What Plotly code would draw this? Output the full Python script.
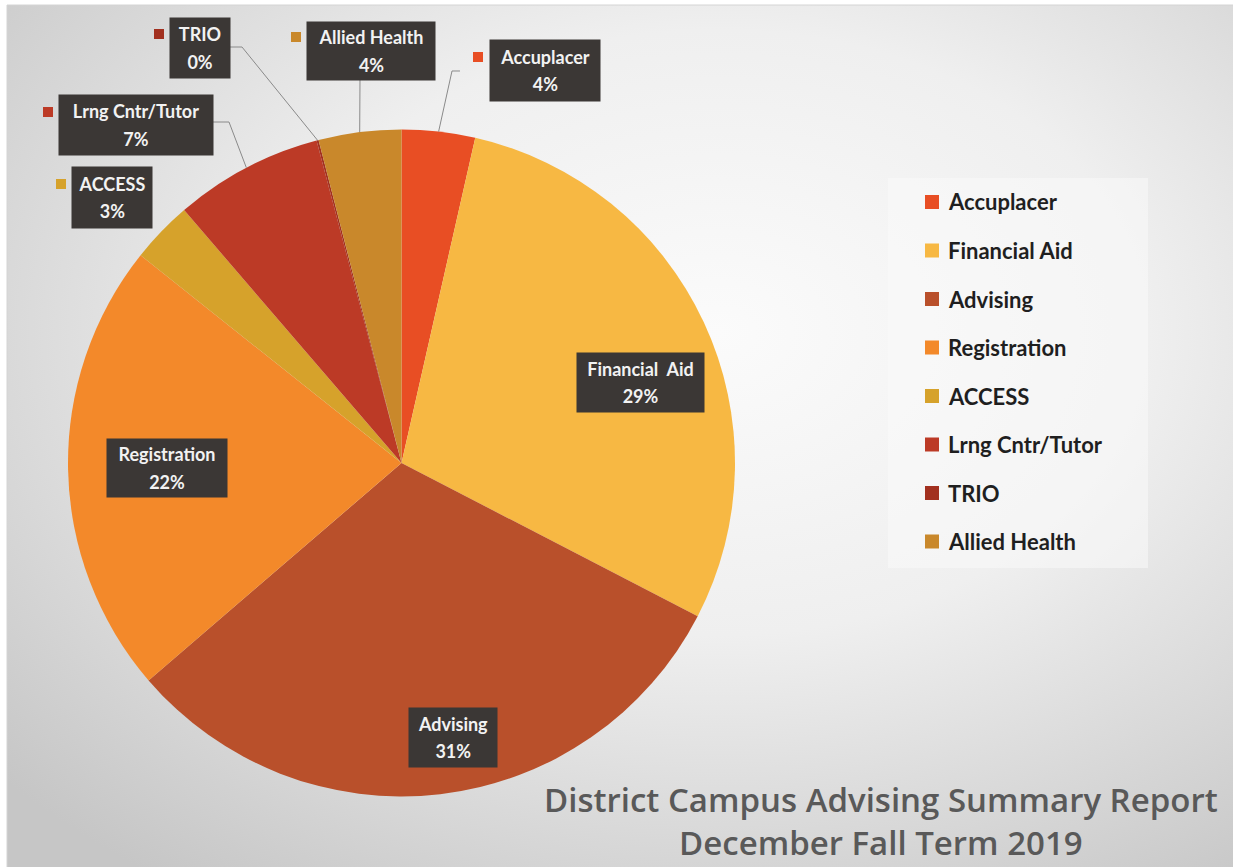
import math
import base64
import plotly.graph_objects as go

# ---------------- data ----------------
categories = ["Accuplacer", "Financial Aid", "Advising", "Registration",
              "ACCESS", "Lrng Cntr/Tutor", "TRIO", "Allied Health"]
values = [3.55, 29.05, 31.1, 22.0, 3.0, 7.2, 0.1, 4.0]
label_names = ["Accuplacer", "Financial  Aid", "Advising", "Registration",
               "ACCESS", "Lrng Cntr/Tutor", "TRIO", "Allied Health"]
title_lines = ["District Campus Advising Summary Report", "December Fall Term 2019"]

# ---------------- styles / layout ----------------
colors = ["#E84E24", "#F7B843", "#B9502B", "#F3892A",
          "#D6A22B", "#BC3A26", "#A2301F", "#C9882B"]
W, H = 1233, 867
CX, CY, R = 401.5, 463.0, 333.5   # pie centre / radius in pixels
FONT = "Lato, 'Open Sans', sans-serif"
TITLE_FONT = "'Open Sans', Lato, sans-serif"

# label boxes: centre, size, marker position, leader start/elbow
label_boxes = {
    "Accuplacer":      dict(c=(545, 70.5), w=110, h=61, mk=(478, 57), lead=[(460, 71), (452, 71)]),
    "Financial Aid":   dict(c=(640, 382), w=127, h=59, mk=None, lead=None),
    "Advising":        dict(c=(453, 737), w=88, h=59, mk=None, lead=None),
    "Registration":    dict(c=(167, 468), w=120, h=58, mk=None, lead=None),
    "ACCESS":          dict(c=(112, 197.5), w=80, h=61, mk=(61, 184), lead=None),
    "Lrng Cntr/Tutor": dict(c=(136, 125), w=154, h=60, mk=(48, 112), lead=[(213, 122), (229, 122)]),
    "TRIO":            dict(c=(200, 48), w=60, h=60, mk=(159, 34), lead=[(230, 47), (242, 47)]),
    "Allied Health":   dict(c=(371, 51), w=128, h=58, mk=(296, 37), lead=[(360, 80)]),
}


def px(x):
    return x / W


def py(y):
    return 1 - y / H


# background radial gradient (inline SVG image)
svg = ('<svg xmlns="http://www.w3.org/2000/svg" width="1233" height="867" viewBox="0 0 1233 867" '
       'preserveAspectRatio="none"><defs><radialGradient id="g" cx="0.58" cy="0.38" r="0.78">'
       '<stop offset="0" stop-color="#fbfbfb"/><stop offset="0.45" stop-color="#efefef"/>'
       '<stop offset="1" stop-color="#c6c6c6"/></radialGradient></defs>'
       '<rect width="1233" height="867" fill="url(#g)"/></svg>')
bg_src = "data:image/svg+xml;base64," + base64.b64encode(svg.encode()).decode()

fig = go.Figure()
fig.add_trace(go.Pie(
    labels=categories, values=values, sort=False, direction="clockwise", rotation=0,
    marker=dict(colors=colors, line=dict(width=0)),
    textinfo="none", hoverinfo="label+percent", showlegend=False,
    domain=dict(x=[px(CX - R), px(CX + R)], y=[py(CY + R), py(CY - R)]),
))

total = sum(values)
annotations = []
shapes = []
cum = 0.0
for cat, name, val, col in zip(categories, label_names, values, colors):
    mid = (cum + val / 2) / total
    cum += val
    theta = 2 * math.pi * mid
    ex, ey = CX + R * math.sin(theta), CY - R * math.cos(theta)
    pct = f"{round(val / total * 100)}%"
    b = label_boxes[cat]
    bx, by = b["c"]
    annotations.append(dict(
        x=px(bx), y=py(by), xref="paper", yref="paper", xanchor="center", yanchor="middle",
        width=b["w"], height=b["h"], bgcolor="#3b3735", borderpad=0, showarrow=False,
        align="center", valign="middle",
        font=dict(family=FONT, size=21, color="#f2f2f2", weight="bold"),
        text=f'<span style="font-size:18px">{name}</span><br><span style="font-size:18px">{pct}</span>',
    ))
    if b["mk"]:
        mx, my = b["mk"]
        shapes.append(dict(type="rect", xref="paper", yref="paper",
                           x0=px(mx - 5), x1=px(mx + 5), y0=py(my + 5), y1=py(my - 5),
                           fillcolor=col, line=dict(width=0)))
    if b["lead"]:
        pts = b["lead"] + [(ex, ey)]
        path = "M " + " L ".join(f"{px(x):.5f},{py(y):.5f}" for x, y in pts)
        shapes.append(dict(type="path", xref="paper", yref="paper", path=path,
                           line=dict(color="#8a8a8a", width=1)))

# legend box
shapes.append(dict(type="rect", xref="paper", yref="paper", layer="below",
                   x0=px(888), x1=px(1148), y0=py(568), y1=py(178),
                   fillcolor="rgba(250,250,250,0.55)", line=dict(width=0)))
# top / left border line
shapes.append(dict(type="rect", xref="paper", yref="paper", layer="below",
                   x0=px(7), x1=px(1240), y0=py(875), y1=py(5),
                   fillcolor="rgba(0,0,0,0)", line=dict(color="#d4d4d4", width=1)))

# legend (manual)
for i, (cat, col) in enumerate(zip(categories, colors)):
    ry = 202 + 48.5 * i
    shapes.append(dict(type="rect", xref="paper", yref="paper",
                       x0=px(925), x1=px(939), y0=py(ry + 7), y1=py(ry - 7),
                       fillcolor=col, line=dict(width=0)))
    annotations.append(dict(
        x=px(946), y=py(ry), xref="paper", yref="paper", xanchor="left", yanchor="middle",
        showarrow=False, text=cat,
        font=dict(family=FONT, size=22, color="#1f1f1f", weight="bold"),
    ))

# title
annotations.append(dict(
    x=px(881), y=py(821), xref="paper", yref="paper", xanchor="center", yanchor="middle",
    showarrow=False, align="center", text="<br>".join(title_lines),
    font=dict(family=TITLE_FONT, size=33, color="#595959", weight=600),
))

fig.update_layout(
    width=W, height=H, margin=dict(l=0, r=0, t=0, b=0),
    paper_bgcolor="#ffffff", plot_bgcolor="rgba(0,0,0,0)",
    annotations=annotations, shapes=shapes, showlegend=False,
    images=[dict(source=bg_src, xref="paper", yref="paper", x=px(7), y=py(5),
                 sizex=1 - px(7), sizey=1 - 5 / H, sizing="stretch", layer="below",
                 xanchor="left", yanchor="top")],
)

fig.write_html("out.html", config={"displayModeBar": False},
               post_script="document.body.style.margin='0';document.body.style.overflow='hidden';")
